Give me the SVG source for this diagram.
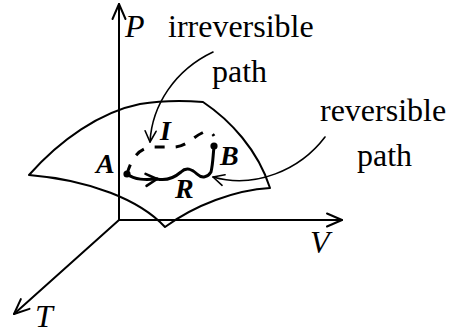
<svg xmlns="http://www.w3.org/2000/svg" width="457" height="334" viewBox="0 0 457 334">
<style>
.ln{fill:none;stroke:#000;stroke-width:2;stroke-linecap:round;stroke-linejoin:round}
.thin{fill:none;stroke:#000;stroke-width:1.6;stroke-linecap:round}
.thick{fill:none;stroke:#000;stroke-width:3;stroke-linecap:round;stroke-linejoin:round}
.dash{fill:none;stroke:#000;stroke-width:3;stroke-dasharray:10 11}
.t{font-family:"Liberation Serif","Times New Roman",serif;font-size:32px;fill:#000}
.it{font-family:"Liberation Serif","Times New Roman",serif;font-size:32px;font-style:italic;fill:#000}
.bi{font-family:"Liberation Serif","Times New Roman",serif;font-size:28px;font-style:italic;font-weight:bold;fill:#000}
</style>
<defs>
<marker id="ax" markerUnits="userSpaceOnUse" markerWidth="20" markerHeight="20" refX="0" refY="0" viewBox="-18 -10 20 20" orient="auto" overflow="visible">
<path d="M-15,-6.5 L0,0 L-15,6.5" fill="none" stroke="#000" stroke-width="2" stroke-linecap="round" stroke-linejoin="round"/>
</marker>
<marker id="ar" markerUnits="userSpaceOnUse" markerWidth="20" markerHeight="20" refX="0" refY="0" viewBox="-18 -10 20 20" orient="auto" overflow="visible">
<path d="M-11,-5.5 L0,0 L-11,5.5" fill="none" stroke="#000" stroke-width="1.6" stroke-linecap="round" stroke-linejoin="round"/>
</marker>
<marker id="rk" markerUnits="userSpaceOnUse" markerWidth="20" markerHeight="20" refX="0" refY="0" viewBox="-18 -10 20 20" orient="auto" overflow="visible">
<path d="M-11,-6 L0,0 L-11,6" fill="none" stroke="#000" stroke-width="2.6" stroke-linecap="round" stroke-linejoin="round"/>
</marker>
</defs>
<rect width="457" height="334" fill="#fff"/>

<g id="surface">
<path class="ln" d="M29,175 C60,140 100,112 140,104 C165,100 190,101 203,102 C230,120 258,150 270,188 C235,190 195,205 165,227 C140,200 90,180 29,175 Z"/>
</g>

<g id="axes">
<line class="ln" x1="119" y1="220" x2="119" y2="4" marker-end="url(#ax)"/>
<line class="ln" x1="119" y1="220" x2="342" y2="220" marker-end="url(#ax)"/>
<line class="ln" x1="119" y1="220" x2="14" y2="314" marker-end="url(#ax)"/>
<text class="it" x="125" y="37">P</text>
<text class="it" x="310" y="253">V</text>
<text class="it" x="35" y="327">T</text>
</g>

<g id="pathI">
<path class="dash" d="M127,174 C131,160 137,150 150,147 L175,147 C187,146 193,137 202,133 C207,130 211,131 214,136"/>
<text class="bi" x="160" y="140">I</text>
</g>

<g id="pathR">
<path class="thick" d="M127,174 C135,180 145,180 157,179" marker-end="url(#rk)"/>
<path class="thick" d="M157,179 C166,181 174,178 181,172 C186,167 192,169 197,174 C202,179 208,177 211,172 C213,164 213,155 214,147"/>
<text class="bi" x="175" y="198">R</text>
</g>

<g id="pointA">
<circle cx="127" cy="174" r="3.6" fill="#000"/>
<text class="bi" x="96" y="173">A</text>
</g>

<g id="pointB">
<circle cx="214" cy="146" r="3.6" fill="#000"/>
<text class="bi" x="220" y="165">B</text>
</g>

<g id="connectors">
<path class="thin" d="M213,52 C175,70 152,105 150,142" marker-end="url(#ar)"/>
<path class="thin" d="M325,137 C300,170 255,189 213,177" marker-end="url(#ar)"/>
</g>

<g id="label-irreversible">
<text class="t" x="168" y="37">irreversible</text>
<text class="t" x="212" y="82">path</text>
</g>
<g id="label-reversible">
<text class="t" x="320" y="121">reversible</text>
<text class="t" x="357" y="166">path</text>
</g>
</svg>
